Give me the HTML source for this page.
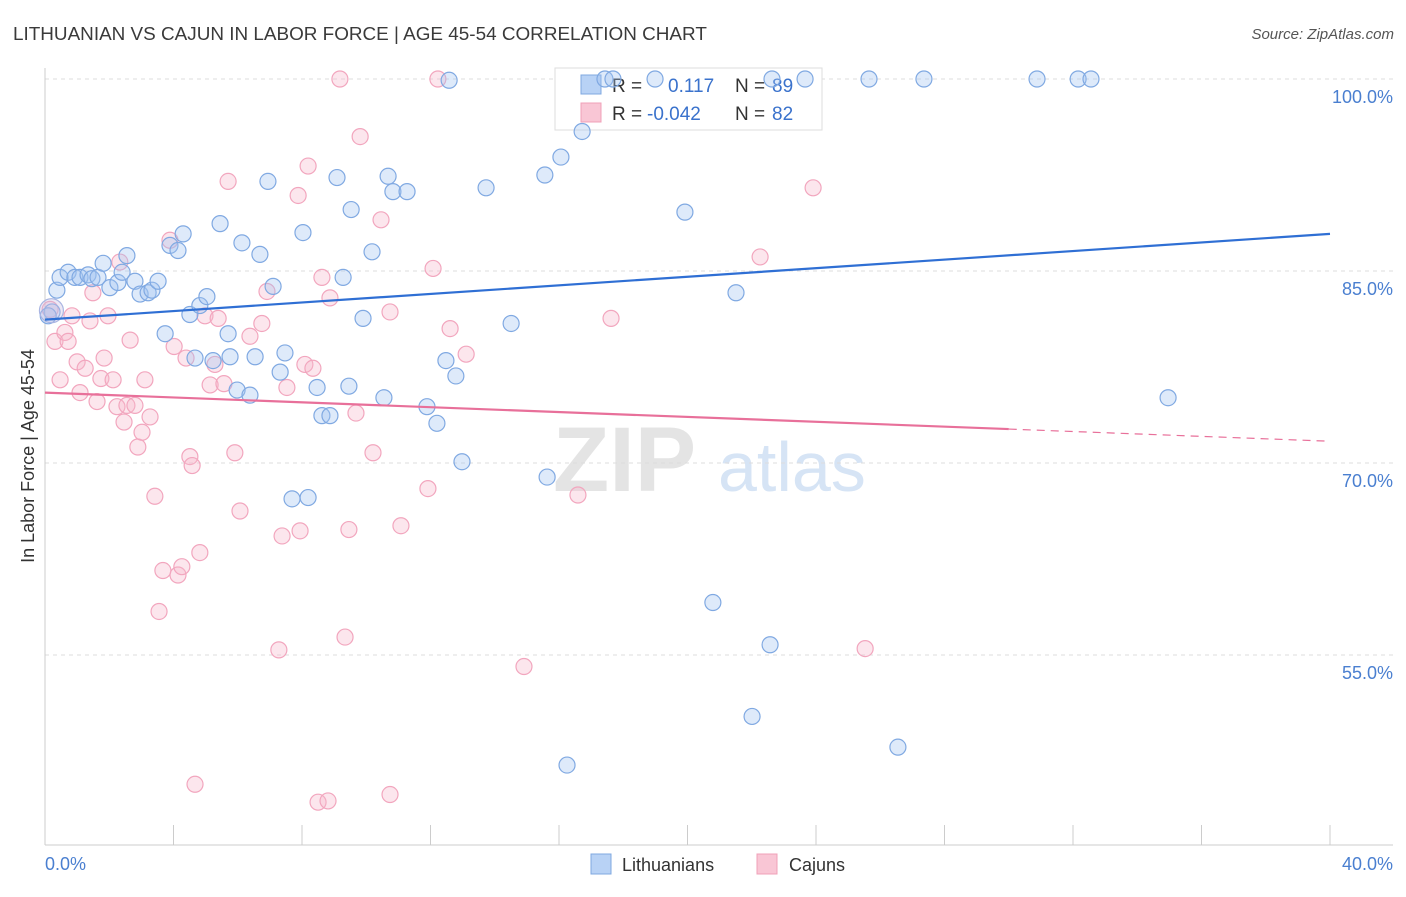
<!DOCTYPE html>
<html><head><meta charset="utf-8">
<style>
body{margin:0;background:#fff;font-family:"Liberation Sans",sans-serif;}
svg text{font-family:"Liberation Sans",sans-serif;}
</style></head>
<body>
<svg id="chart" width="1406" height="892" xmlns="http://www.w3.org/2000/svg">
<text x="13" y="40" font-size="18.9" fill="#3a3a3a">LITHUANIAN VS CAJUN IN LABOR FORCE | AGE 45-54 CORRELATION CHART</text>
<text x="1394" y="39" font-size="15" fill="#555" font-style="italic" text-anchor="end">Source: ZipAtlas.com</text>
<g>
<text x="553" y="491" font-size="92" fill="#e4e4e4" font-family="Liberation Serif" font-weight="bold">ZIP</text>
<text x="718" y="491" font-size="70" fill="#d6e4f5">atlas</text>
</g>
<g id="grid"></g>
<g id="axes"></g>
<g>
<rect x="555" y="68" width="267" height="62" fill="#fff" stroke="#ddd"/>
<rect x="581" y="75" width="20" height="19" fill="#b8d2f5" stroke="#7fa8e0"/>
<rect x="581" y="103" width="20" height="19" fill="#f9c6d5" stroke="#f0a0b8"/>
<text x="612" y="92" font-size="19" fill="#333">R =</text>
<text id="r1" x="668" y="92" font-size="19" fill="#3a72cc"></text>
<text x="735" y="92" font-size="19" fill="#333">N =</text>
<text id="n1" x="772" y="92" font-size="19" fill="#3a72cc"></text>
<text x="612" y="120" font-size="19" fill="#333">R =</text>
<text id="r2" x="647" y="120" font-size="19" fill="#3a72cc"></text>
<text x="735" y="120" font-size="19" fill="#333">N =</text>
<text id="n2" x="772" y="120" font-size="19" fill="#3a72cc"></text>
</g>
<g id="pts"></g>
<g id="trends"></g>
<g>
<g>
<rect x="591" y="854" width="20" height="20" fill="#b8d2f5" stroke="#7fa8e0"/>
<text x="622" y="871" font-size="18" fill="#333">Lithuanians</text></g>
<g>
<rect x="757" y="854" width="20" height="20" fill="#f9c6d5" stroke="#f0a0b8"/>
<text x="789" y="871" font-size="18" fill="#333">Cajuns</text></g>
</g>
</svg>
<script>
const yTicks=[100,85,70,55];
const yTickLabels=["100.0%","85.0%","70.0%","55.0%"];
const xTicks=[0,4,8,12,16,20,24,28,32,36,40];
const xLabels=["0.0%","40.0%"];
const legendR=["0.117","-0.042"];
const legendN=["89","82"];
const lithX=[0.22,0.37,0.47,0.72,0.93,1.09,1.34,1.46,1.65,1.81,2.02,2.27,2.40,2.55,2.80,2.96,3.21,3.33,3.52,3.74,3.89,4.14,4.30,4.51,4.67,4.82,5.04,5.23,5.45,5.70,5.76,5.98,6.13,6.38,6.54,6.69,6.94,7.10,7.32,7.47,7.69,8.03,8.19,8.47,8.62,8.87,9.09,9.28,9.46,9.53,9.90,10.18,10.55,10.68,10.83,11.27,11.89,12.20,12.48,12.58,12.79,12.98,13.73,14.51,15.56,15.63,16.06,16.25,16.72,17.43,17.68,18.99,19.92,20.79,21.51,22.01,22.57,22.63,23.66,25.65,26.55,27.36,30.88,32.16,32.56,34.96,0.1];
const lithY=[81.8,83.5,84.5,84.9,84.5,84.5,84.7,84.4,84.5,85.6,83.7,84.1,84.9,86.2,84.2,83.2,83.3,83.5,84.2,80.1,87.0,86.6,87.9,81.6,78.2,82.3,83.0,78.0,88.7,80.1,78.3,75.7,87.2,75.3,78.3,86.3,92.0,83.8,77.1,78.6,67.2,88.0,67.3,75.9,73.7,73.7,92.3,84.5,76.0,89.8,81.3,86.5,75.1,92.4,91.2,91.2,74.4,73.1,78.0,99.9,76.8,70.1,91.5,80.9,92.5,68.9,93.9,46.4,95.9,100,100,100,89.6,59.1,83.3,50.2,55.8,100,100,100,47.8,100,100,100,100,75.1,81.5];
const cajX=[0.16,0.31,0.47,0.62,0.72,0.84,1.00,1.09,1.25,1.40,1.49,1.62,1.74,1.84,1.96,2.12,2.24,2.33,2.46,2.55,2.65,2.80,2.89,3.02,3.11,3.27,3.42,3.55,3.67,3.89,4.02,4.14,4.26,4.39,4.51,4.58,4.67,4.82,4.98,5.14,5.29,5.39,5.57,5.70,5.91,6.07,6.38,6.75,6.91,7.28,7.38,7.53,7.88,7.94,8.09,8.19,8.34,8.50,8.62,8.81,8.87,9.18,9.34,9.46,9.68,9.81,10.21,10.46,10.74,10.74,11.08,11.92,12.08,12.23,12.61,13.11,14.91,16.59,17.62,22.26,23.91,25.53];
const cajY=[82.0,79.5,76.5,80.2,79.5,81.5,77.9,75.5,77.4,81.1,83.3,74.8,76.6,78.2,81.5,76.5,74.4,85.7,73.2,74.5,79.6,74.5,71.25,72.4,76.5,73.6,67.4,58.4,61.6,87.4,79.1,61.25,61.9,78.2,70.5,69.8,44.9,63.0,81.5,76.1,77.7,81.3,76.2,92.0,70.8,66.25,79.9,80.9,83.4,55.4,64.3,75.9,90.9,64.7,77.7,93.2,77.4,43.5,84.5,43.6,82.9,100,56.4,64.8,73.9,95.5,70.8,89.0,81.8,44.1,65.1,68.0,85.2,100,80.5,78.5,54.1,67.5,81.3,86.1,91.5,55.5];
const bigX=[0.2], bigY=[81.9];
const lithTrendX=[0,40], lithTrendY=[81.2,87.9];
const cajTrendX=[0,30,40], cajTrendY=[75.5,72.65,71.7];

const NS="http://www.w3.org/2000/svg";
const X=v=>45+v*32.125;
const Y=v=>79+(100-v)*12.8;
function mk(tag,attrs,parent){const e=document.createElementNS(NS,tag);for(const k in attrs)e.setAttribute(k,attrs[k]);parent.appendChild(e);return e;}
const grid=document.getElementById('grid'),axes=document.getElementById('axes'),pts=document.getElementById('pts'),tr=document.getElementById('trends');
yTicks.forEach((t,i)=>{
 const l=mk('line',{x1:45,x2:1393,y1:Y(t),y2:Y(t),stroke:'#ddd','stroke-dasharray':'4,4'},grid);
 
 
 const tx=mk('text',{x:1393,y:Y(t)+24,'font-size':18,fill:'#4a7fd0','text-anchor':'end'},axes);
 tx.textContent=yTickLabels[i];
 
 
});
mk('line',{x1:45,x2:45,y1:68,y2:845,stroke:'#ccc'},axes);
mk('line',{x1:45,x2:1393,y1:845,y2:845,stroke:'#ccc'},axes);
xTicks.forEach(t=>{
 const l=mk('line',{x1:X(t),x2:X(t),y1:825,y2:845,stroke:'#ccc'},axes);
 
 
});
const xl0=mk('text',{x:45,y:870,'font-size':18,fill:'#4a7fd0'},axes);xl0.textContent=xLabels[0];


const xl1=mk('text',{x:1393,y:870,'font-size':18,fill:'#4a7fd0','text-anchor':'end'},axes);xl1.textContent=xLabels[1];


const yt=mk('text',{x:0,y:0,'font-size':18,fill:'#333','text-anchor':'middle',transform:'translate(34,456) rotate(-90)'},axes);
yt.textContent='In Labor Force | Age 45-54';


document.getElementById('r1').textContent=legendR[0];
document.getElementById('r2').textContent=legendR[1];
document.getElementById('n1').textContent=legendN[0];
document.getElementById('n2').textContent=legendN[1];
cajX.forEach((x,i)=>{
 const c=mk('circle',{cx:X(x),cy:Y(cajY[i]),r:8,fill:'rgba(246,182,202,0.35)',stroke:'#f2a6be','stroke-width':1.2},pts);
 
 
});
lithX.forEach((x,i)=>{
 const c=mk('circle',{cx:X(x),cy:Y(lithY[i]),r:8,fill:'rgba(160,196,240,0.35)',stroke:'#80a9e2','stroke-width':1.2},pts);
 
 
});
bigX.forEach((x,i)=>{
 const c=mk('circle',{cx:X(x),cy:Y(bigY[i]),r:12,fill:'rgba(200,190,225,0.35)',stroke:'#a9b5e2','stroke-width':1.2},pts);
 
 
});
const bl=mk('line',{x1:X(lithTrendX[0]),y1:Y(lithTrendY[0]),x2:X(lithTrendX[1]),y2:Y(lithTrendY[1]),stroke:'#2f6fd4','stroke-width':2.2},tr);


const pl=mk('line',{x1:X(cajTrendX[0]),y1:Y(cajTrendY[0]),x2:X(cajTrendX[1]),y2:Y(cajTrendY[1]),stroke:'#e8709a','stroke-width':2.2},tr);


const pd=mk('line',{x1:X(cajTrendX[1]),y1:Y(cajTrendY[1]),x2:X(cajTrendX[2]),y2:Y(cajTrendY[2]),stroke:'#e8709a','stroke-width':1.2,'stroke-dasharray':'8,6'},tr);


</script>
</body></html>
